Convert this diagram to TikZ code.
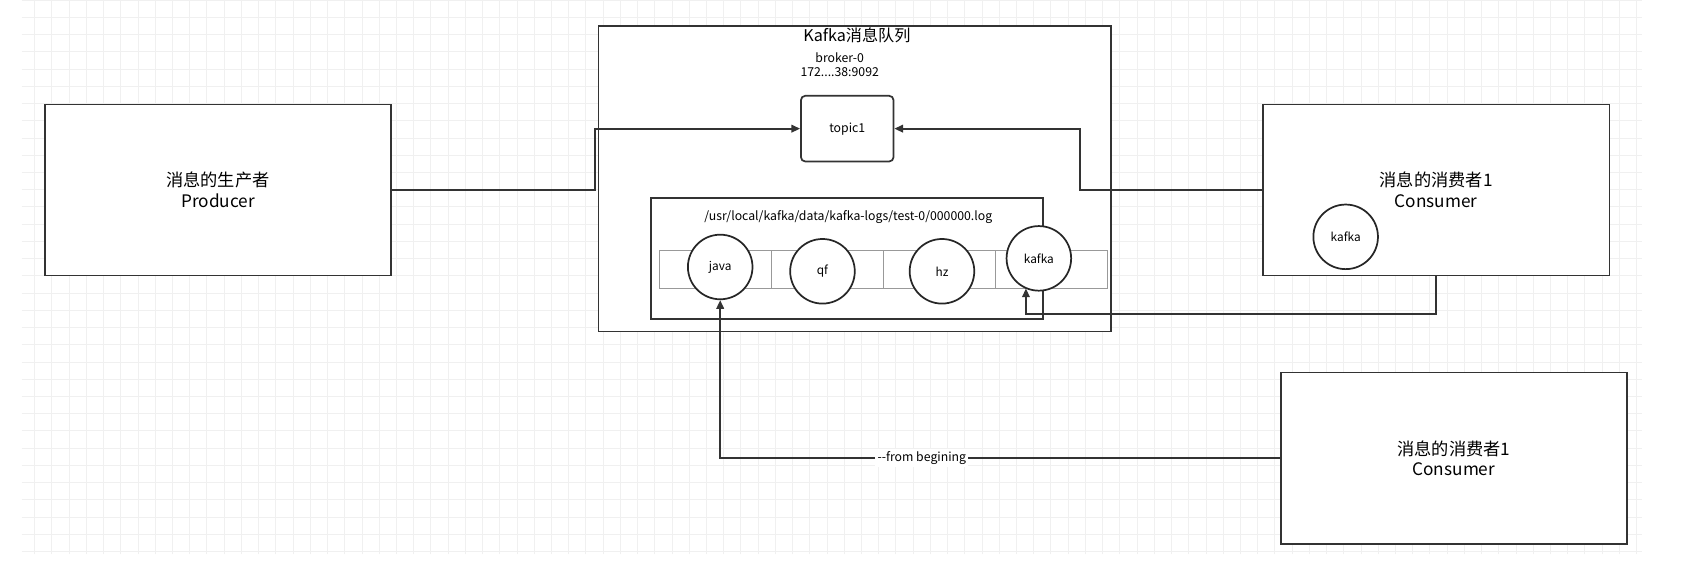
\documentclass[tikz,border=0pt]{standalone}
\usepackage{fontspec}
\setmainfont{Noto Sans CJK SC}
\usetikzlibrary{arrows.meta,positioning}
\tikzset{
  box/.style={draw=black!80,thick,fill=white,align=center,font=\fontsize{8}{9.5}\selectfont},
  msg/.style={circle,draw=black!85,thick,fill=white,minimum size=30pt,inner sep=0pt,font=\fontsize{5.5}{6}\selectfont},
  link/.style={draw=black!80,thick,-{Triangle[length=4pt,width=3.5pt]}},
  small/.style={font=\fontsize{5.7}{6.7}\selectfont}
}
\begin{document}
\begin{tikzpicture}[x=0.5pt,y=-0.5pt]
  \useasboundingbox (0,0) rectangle (1568,541);
  \draw[step=8pt,black!6,very thin] (20,0) grid (1525,515); % grid

  % boxes
  \node[box,minimum width=160.5pt,minimum height=79.5pt] (producer) at (202.5,176.5) {消息的生产者\\Producer};
  \node[box,minimum width=238pt,minimum height=142pt] (queue) at (794,166) {};
  \node[font=\fontsize{7.5}{9}\selectfont] (qtitle) at (796,33) {Kafka消息队列};
  \node[small,align=center] (broker) at (780,60) {broker{-}0\\172....38:9092};
  \node[box,rounded corners=2pt,minimum width=43pt,minimum height=30.5pt,small] (topic) at (787,119.5) {topic1};
  \node[box,minimum width=182pt,minimum height=56pt] (log) at (787,240) {};
  \node[small] (path) at (788,202) {/usr/local/kafka/data/kafka{-}logs/test{-}0/000000.log};

  % cells
  \foreach \i in {0,...,3}
    \draw[black!40] ({613+104*\i},233) rectangle ({717+104*\i},268);

  % messages
  \node[msg] (java) at (669,248) {java};
  \node[msg] (qf) at (764,252) {qf};
  \node[msg] (hz) at (875,252) {hz};
  \node[msg] (kafka) at (965,240) {kafka};

  \node[box,minimum width=161pt,minimum height=79.5pt] (consumerA) at (1334,176.5) {消息的消费者1\\Consumer};
  \node[msg] (ckafka) at (1250,220) {kafka};
  \node[box,minimum width=160.5pt,minimum height=79.5pt] (consumerB) at (1350.5,425.5) {消息的消费者1\\Consumer};

  % connectors
  \draw[link] (producer.east) -- (553,176.5) |- (topic.west);
  \draw[link] (consumerA.west) -- (1003,176.5) |- (topic.east);
  \draw[link] (consumerA.south) |- (953,292) -- (953,268);
  \draw[link] (consumerB.west) -| (java.south)
    node[pos=0.32,fill=white,small,inner sep=1pt] (frombeg) {{-}{-}from begining};
\end{tikzpicture}
\end{document}
